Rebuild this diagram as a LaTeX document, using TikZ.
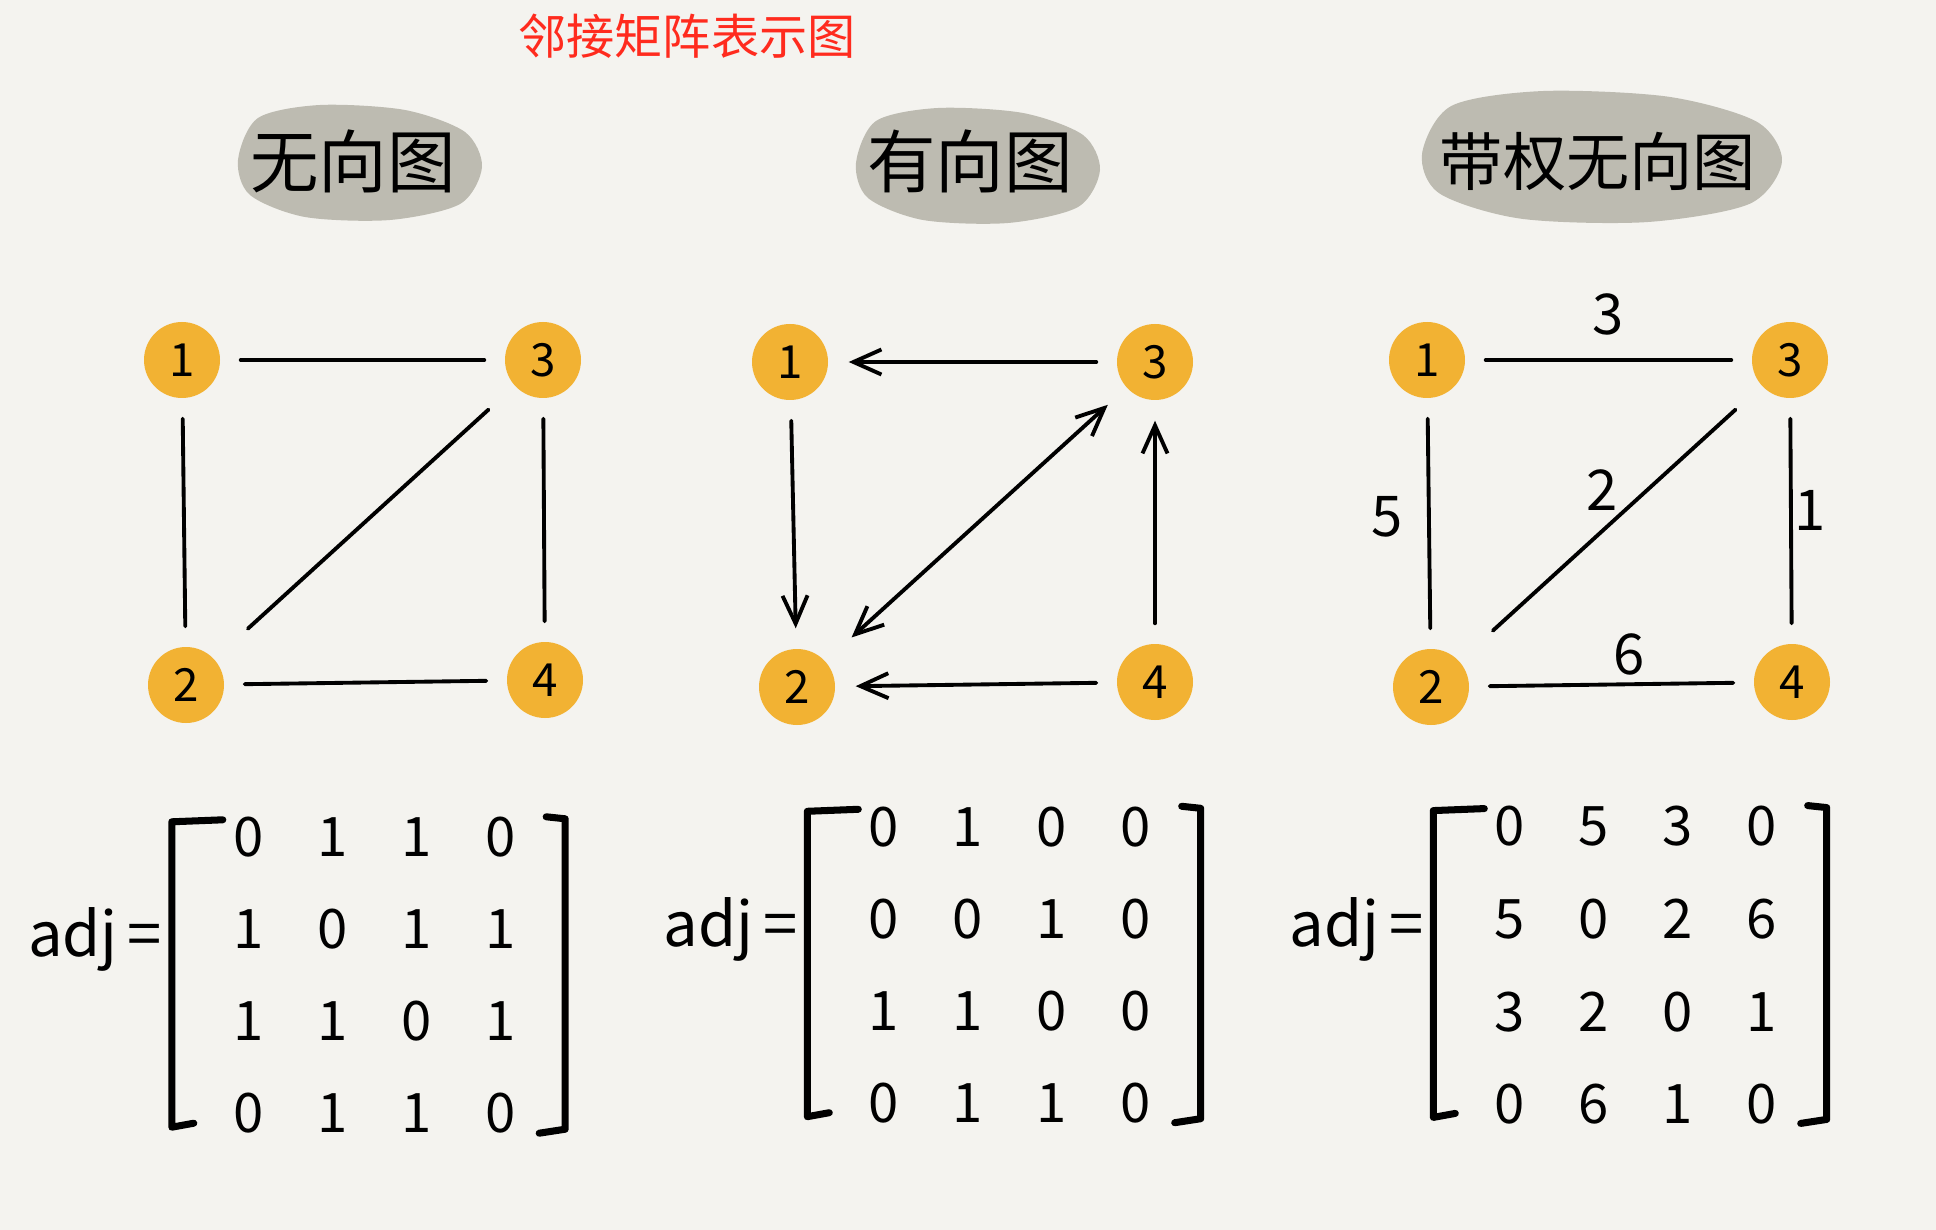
\documentclass[tikz,border=0pt]{standalone}
\usepackage{fontspec}
\setmainfont{Noto Sans CJK SC}
\usepackage{tikz}
\usetikzlibrary{calc}
\usetikzlibrary{arrows.meta, matrix}

\definecolor{paper}{HTML}{F4F3EF}
\definecolor{blobgray}{HTML}{BDBBB1}
\definecolor{vertexorange}{HTML}{F2B233}
\definecolor{titlered}{HTML}{FF2B1E}

\tikzset{
  vertex/.style={circle, fill=vertexorange, minimum size=0.76cm, inner sep=0pt, font=\fontsize{13}{13}\selectfont},
  link/.style={line width=1.1pt, shorten >=0.2cm, shorten <=0.2cm},
  barb/.tip={Straight Barb[length=2.8mm, width=2.5mm]},
  arrowlink/.style={link, -barb},
  edgeweight/.style={font=\fontsize{16}{16}\selectfont, inner sep=1pt},
  blob/.style={fill=blobgray, draw=none},
  heading/.style={font=\fontsize{19.5}{19.5}\selectfont},
  adjmat/.style={matrix of nodes, inner sep=0pt, column sep=0pt, row sep=0pt,
    nodes={minimum width=0.84cm, minimum height=0.92cm, inner sep=0pt, font=\fontsize{15.5}{15.5}\selectfont}},
  bracket/.style={line width=2pt},
  adjlabel/.style={anchor=east, inner sep=0pt, font=\fontsize{17.5}{17.5}\selectfont}
}

\begin{document}
\begin{tikzpicture}[line cap=round, line join=round]
            % page and background
            \useasboundingbox (0,0) rectangle (19.36,-12.30);
            \fill[paper] (0,0) rectangle (19.36,-12.30);

            % title
            \node[titlered, font=\fontsize{13.7}{13.7}\selectfont] (title) at (6.87,-0.36) {邻接矩阵表示图};

            % grey blobs behind the headings
            \path[blob, shift={(3.60,-1.62)}] plot[smooth cycle] coordinates {(-1.22,0.02) (-1.02,0.44) (-0.40,0.57) (0.45,0.52) (1.05,0.30) (1.22,-0.05) (1.00,-0.42) (0.30,-0.58) (-0.55,-0.55) (-1.10,-0.33)};
            \path[blob, shift={(9.78,-1.65)}] plot[smooth cycle] coordinates {(-1.22,0.02) (-1.02,0.44) (-0.40,0.57) (0.45,0.52) (1.05,0.30) (1.22,-0.05) (1.00,-0.42) (0.30,-0.58) (-0.55,-0.55) (-1.10,-0.33)};
            \path[blob, shift={(16.02,-1.56)}, xscale=1.475, yscale=1.14] plot[smooth cycle] coordinates {(-1.22,0.02) (-1.02,0.44) (-0.40,0.57) (0.45,0.52) (1.05,0.30) (1.22,-0.05) (1.00,-0.42) (0.30,-0.58) (-0.55,-0.55) (-1.10,-0.33)};
            \node[heading] (headA) at (3.53,-1.61) {无向图};
            \node[heading] (headB) at (9.70,-1.61) {有向图};
            \node[heading, font=\fontsize{18}{18}\selectfont] (headC) at (15.98,-1.62) {带权无向图};

            % undirected graph
            \node[vertex] (a1) at (1.82,-3.60) {1};
            \node[vertex] (a3) at (5.43,-3.60) {3};
            \node[vertex] (a2) at (1.86,-6.85) {2};
            \node[vertex] (a4) at (5.45,-6.80) {4};
            \draw[link] (a1) -- (a3);
            \draw[link] (a1) -- (a2);
            \draw[link, shorten >=0.35cm, shorten <=0.45cm] (a2) -- (a3);
            \draw[link] (a3) -- (a4);
            \draw[link] (a2) -- (a4);

            % directed graph
            \node[vertex] (b1) at (7.90,-3.62) {1};
            \node[vertex] (b3) at (11.55,-3.62) {3};
            \node[vertex] (b2) at (7.97,-6.87) {2};
            \node[vertex] (b4) at (11.55,-6.82) {4};
            \draw[arrowlink] (b3) -- (b1);
            \draw[arrowlink] (b1) -- (b2);
            \draw[link, barb-barb, shorten >=0.25cm, shorten <=0.35cm] (b2) -- (b3);
            \draw[arrowlink] (b4) -- (b3);
            \draw[arrowlink] (b4) -- (b2);

            % weighted undirected graph
            \node[vertex] (c1) at (14.27,-3.60) {1};
            \node[vertex] (c3) at (17.90,-3.60) {3};
            \node[vertex] (c2) at (14.31,-6.87) {2};
            \node[vertex] (c4) at (17.92,-6.82) {4};
            \draw[link] (c1) -- (c3) node[midway, yshift=0.46cm, edgeweight] {3};
            \draw[link] (c1) -- (c2) node[midway, xshift=-0.42cm, yshift=0.07cm, edgeweight] {5};
            \draw[link, shorten >=0.35cm, shorten <=0.45cm] (c2) -- (c3) node[midway, xshift=-0.08cm, yshift=0.33cm, edgeweight] {2};
            \draw[link] (c3) -- (c4) node[midway, xshift=0.19cm, yshift=0.11cm, edgeweight] {1};
            \draw[link] (c2) -- (c4) node[midway, xshift=0.18cm, yshift=0.30cm, edgeweight] {6};

            % adjacency matrices
            \matrix[adjmat] (mA) at (3.745,-9.755) {
              0 & 1 & 1 & 0 \\
              1 & 0 & 1 & 1 \\
              1 & 1 & 0 & 1 \\
              0 & 1 & 1 & 0 \\
            };
            \matrix[adjmat] (mB) at (10.10,-9.65) {
              0 & 1 & 0 & 0 \\
              0 & 0 & 1 & 0 \\
              1 & 1 & 0 & 0 \\
              0 & 1 & 1 & 0 \\
            };
            \matrix[adjmat] (mC) at (16.36,-9.65) {
              0 & 5 & 3 & 0 \\
              5 & 0 & 2 & 6 \\
              3 & 2 & 0 & 1 \\
              0 & 6 & 1 & 0 \\
            };

            % brackets and labels of the matrices
            \foreach \m in {mA, mB, mC} {
              \draw[bracket] ($(\m.north west)+(0.17,-0.29)$) -- ($(\m.north west)+(-0.34,-0.31)$) -- ($(\m.south west)+(-0.34,0.33)$) -- ($(\m.south west)+(-0.12,0.37)$);
              \draw[bracket] ($(\m.north east)+(0.03,-0.26)$) -- ($(\m.north east)+(0.22,-0.28)$) -- ($(\m.south east)+(0.22,0.31)$) -- ($(\m.south east)+(-0.04,0.27)$);
              \node[adjlabel] (adj-\m) at ($(\m.west)+(-0.43,0.36)$) {adj\,=};
            }
        \end{tikzpicture}
\end{document}
